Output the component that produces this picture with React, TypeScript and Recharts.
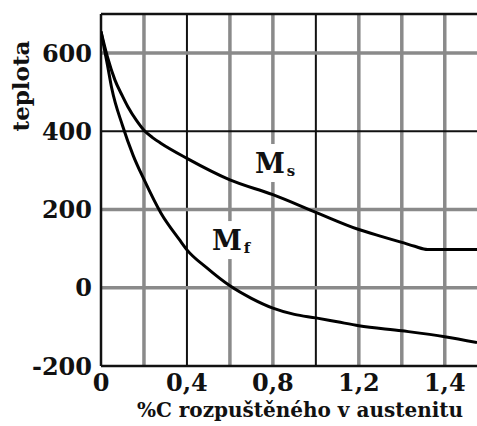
import React from "react";
import {
  LineChart, Line, XAxis, YAxis, ReferenceLine, ReferenceDot, Label,
} from "recharts";

// carbon content (%) and temperatures
const msCarbon = [0, 0.03, 0.065, 0.1, 0.125, 0.165, 0.2, 0.24, 0.28, 0.4, 0.6, 0.8, 1.0, 1.2, 1.3, 1.4, 1.46, 1.52, 1.75];
const msTemp = [655, 590, 531, 490, 463, 428, 403, 384, 369, 331, 276, 238, 193, 149, 132, 116, 106, 98, 98];

const mfCarbon = [0, 0.03, 0.05, 0.1, 0.15, 0.2, 0.28, 0.365, 0.4, 0.49, 0.6, 0.7, 0.8, 0.9, 1.0, 1.1, 1.2, 1.4, 1.6, 1.75];
const mfTemp = [655, 570, 510, 415, 338, 277, 190, 123, 97, 52, 5, -27, -52, -68, -77, -87, -97, -110, -125, -140];

const xTicks = [0, 0.4, 0.8, 1.2, 1.6];
const xTickLabels = ["0", "0,4", "0,8", "1,2", "1,4"];
const yTicks = [-200, 0, 200, 400, 600];

const xGrid = [0.2, 0.4, 0.6, 0.8, 1.0, 1.2, 1.4, 1.6];
const xGridDark = [0.4, 1.0];
const yGrid = [0, 200, 600, 400];
const yGridDark = [400];

const msData = msCarbon.map((x, i) => ({ x, t: msTemp[i] }));
const mfData = mfCarbon.map((x, i) => ({ x, t: mfTemp[i] }));

const FONT = "'DejaVu Serif', serif";

function CurveLabel(props: any) {
  const { viewBox, sub } = props;
  const cx = viewBox.x;
  const cy = viewBox.y;
  return (
    <g>
      <rect x={cx - 24} y={cy - 19} width={50} height={38} fill="#fff" />
      <text x={cx - 18} y={cy + 10} fontFamily={FONT} fontWeight="bold" fontSize={27} fill="#111">
        M
        <tspan fontSize={15} dx={2} dy={3}>{sub}</tspan>
      </text>
    </g>
  );
}

function YTitle(props: any) {
  const { viewBox } = props;
  return (
    <text
      transform={`translate(${viewBox.x + 29},${viewBox.y + 72}) rotate(-90)`}
      textAnchor="middle"
      fontFamily={FONT}
      fontWeight="bold"
      fontSize={23}
      fill="#111"
    >
      teplota
    </text>
  );
}

function XTitle(props: any) {
  const { viewBox } = props;
  return (
    <text
      x={viewBox.x + viewBox.width / 2 + 11}
      y={viewBox.y + 51}
      textAnchor="middle"
      fontFamily={FONT}
      fontWeight="bold"
      fontSize={20}
      fill="#111"
    >
      %C rozpuštěného v austenitu
    </text>
  );
}

export default function App() {
  return (
    <div style={{ width: 477, height: 426, background: "#fff", overflow: "hidden" }}>
      <style>{"body{margin:0}"}</style>
      <LineChart width={477} height={426} margin={{ top: 14, right: 0, left: 0, bottom: 0 }}>
        <XAxis
          type="number"
          dataKey="x"
          domain={[0, 1.75]}
          ticks={xTicks}
          tickFormatter={(v: number) => xTickLabels[xTicks.indexOf(v)] ?? ""}
          tickLine={false}
          axisLine={false}
          height={60}
          tickMargin={2}
          tick={{ fontFamily: FONT, fontWeight: "bold", fontSize: 24, fill: "#111" }}
          allowDataOverflow
        >
          <Label content={<XTitle />} />
        </XAxis>
        <YAxis
          type="number"
          dataKey="t"
          domain={[-200, 700]}
          ticks={yTicks}
          tickLine={false}
          axisLine={false}
          width={101}
          tickMargin={3}
          tick={{ fontFamily: FONT, fontWeight: "bold", fontSize: 24, fill: "#111" }}
          allowDataOverflow
        >
          <Label content={<YTitle />} />
        </YAxis>

        {xGrid.map((v) => (
          <ReferenceLine
            key={`vx${v}`}
            x={v}
            stroke={xGridDark.includes(v) ? "#111" : "#8a8a8a"}
            strokeWidth={xGridDark.includes(v) ? 2 : 3.5}
          />
        ))}
        {yGrid.map((v) => (
          <ReferenceLine
            key={`hy${v}`}
            y={v}
            stroke={yGridDark.includes(v) ? "#111" : "#8a8a8a"}
            strokeWidth={yGridDark.includes(v) ? 2 : 3.5}
          />
        ))}
        <ReferenceLine y={700} stroke="#111" strokeWidth={2.5} />
        <ReferenceLine y={-200} stroke="#111" strokeWidth={2.5} />
        <ReferenceLine x={0} stroke="#111" strokeWidth={2.5} />

        <ReferenceDot x={0.8} y={319} r={0} label={<CurveLabel sub="s" />} />
        <ReferenceDot x={0.6} y={122} r={0} label={<CurveLabel sub="f" />} />

        <Line data={msData} dataKey="t" type="monotone" stroke="#000" strokeWidth={3} dot={false} isAnimationActive={false} />
        <Line data={mfData} dataKey="t" type="monotone" stroke="#000" strokeWidth={3} dot={false} isAnimationActive={false} />
      </LineChart>
    </div>
  );
}
